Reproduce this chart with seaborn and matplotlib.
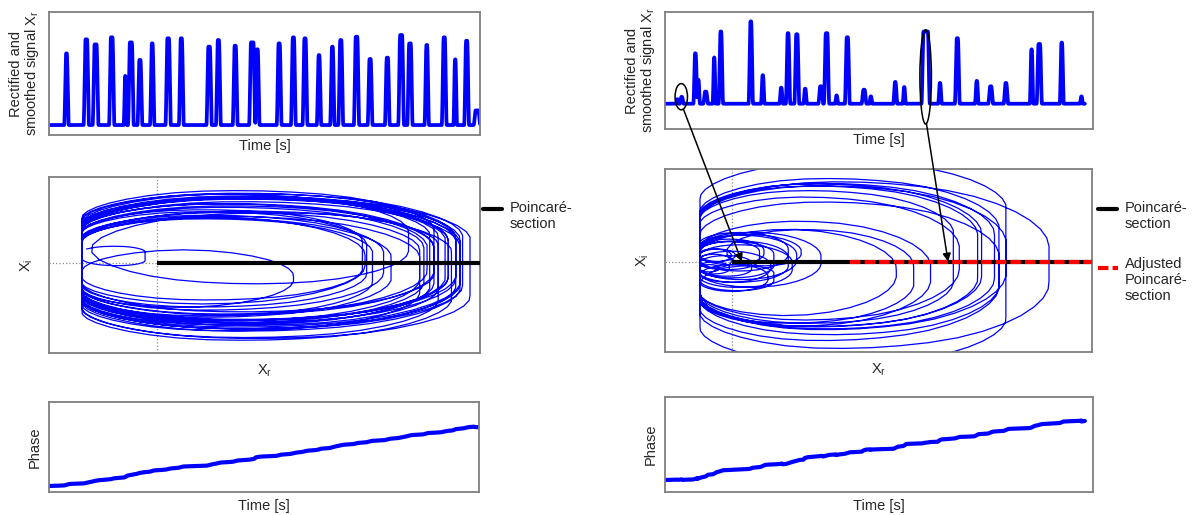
import numpy as np
import matplotlib
matplotlib.use("Agg")
import matplotlib.pyplot as plt
import seaborn as sns
from matplotlib.lines import Line2D
from matplotlib.patches import Ellipse, ConnectionPatch
from matplotlib.transforms import blended_transform_factory

# ---------------- data ----------------
# left recording: pulse onsets / offsets (time units, 0-100) and peak levels (0-1)
left_on = [3.6, 8.1, 10.2, 14.0, 17.4, 18.4, 20.6, 23.5, 27.1, 30.2, 36.6, 38.8, 42.7,
           46.5, 47.9, 52.9, 56.2, 58.9, 62.2, 65.3, 67.2, 70.8, 74.0, 78.0, 81.1, 83.2,
           87.2, 91.2, 93.9, 96.4, 98.6]
left_off = [4.5, 9.2, 11.4, 15.1, 18.0, 19.6, 21.6, 24.4, 28.2, 31.2, 37.7, 39.8, 43.7,
            47.8, 48.8, 53.9, 57.2, 59.9, 63.1, 66.2, 68.2, 71.9, 75.0, 79.0, 82.3, 84.3,
            88.1, 92.2, 94.6, 97.4, 100.0]
left_peak = [0.664, 0.778, 0.737, 0.794, 0.480, 0.753, 0.610, 0.745, 0.786, 0.786, 0.718,
             0.772, 0.726, 0.753, 0.697, 0.745, 0.794, 0.786, 0.650, 0.718, 0.772, 0.799,
             0.618, 0.629, 0.813, 0.745, 0.732, 0.794, 0.615, 0.766, 0.200]
left_base = 0.081
left_end = 100.0

# right recording
right_on = [2.6, 3.5, 6.7, 7.5, 9.0, 11.2, 12.6, 19.6, 22.5, 26.8, 28.3, 30.3, 32.4, 35.9,
            37.2, 39.8, 42.1, 46.0, 47.8, 53.4, 55.6, 60.0, 63.9, 67.8, 72.5, 75.6, 79.2,
            85.3, 86.9, 92.3, 97.0]
right_off = [3.2, 4.3, 7.5, 8.1, 10.0, 11.8, 13.5, 20.5, 23.2, 27.5, 29.2, 31.3, 33.1, 36.9,
             38.3, 40.4, 43.1, 47.0, 48.4, 54.2, 56.2, 61.8, 64.6, 68.8, 73.2, 76.6, 80.1,
             86.0, 88.0, 93.1, 97.6]
right_peak = [0.255, 0.275, 0.647, 0.420, 0.320, 0.612, 0.833, 0.920, 0.460, 0.353, 0.819,
              0.810, 0.345, 0.365, 0.819, 0.287, 0.784, 0.336, 0.279, 0.402, 0.359, 0.833,
              0.394, 0.776, 0.411, 0.365, 0.394, 0.681, 0.727, 0.739, 0.279]
right_base = 0.216
right_end = 98.1

# annotation ellipses in the top-right panel: (time, level, width, height)
small_ellipse = (3.8, 0.276, 2.9, 0.224)
big_ellipse = (60.9, 0.445, 2.7, 0.805)

# ---------------- helpers ----------------
W, H = 1195, 515
BLUE = "#0000ff"
FRAME = "#7f7f7f"
FS = 10.5

sns.set_theme(style="white")
plt.rcParams["font.family"] = ["Liberation Sans", "DejaVu Sans"]
plt.rcParams["mathtext.fontset"] = "custom"
plt.rcParams["mathtext.rm"] = "Liberation Sans"
plt.rcParams["mathtext.it"] = "Liberation Sans:italic"


def px_box(x0, y0, x1, y1):
    return [x0 / W, 1 - y1 / H, (x1 - x0) / W, (y1 - y0) / H]


def fx(x):
    return x / W


def fy(y):
    return 1 - y / H


def build(on, off, peak, base, t_end, n=4000, ramp=0.3, smooth=7, passes=1):
    t = np.linspace(0, t_end, n)
    s = np.full(n, base, dtype=float)
    for a, b, p in zip(on, off, peak):
        r = min(ramp, (b - a) / 3)
        shape = np.interp(t, [a, a + r, b - r, b], [0, 1, 1, 0], left=0, right=0)
        s = np.maximum(s, base + (p - base) * shape)
    k = np.ones(smooth) / smooth
    for _ in range(passes):
        s = np.convolve(np.pad(s, smooth // 2, mode="edge"), k, mode="valid")
    return t, s


def analytic(x):
    n = len(x)
    X = np.fft.fft(x)
    h = np.zeros(n)
    h[0] = 1
    if n % 2 == 0:
        h[n // 2] = 1
        h[1:n // 2] = 2
    else:
        h[1:(n + 1) // 2] = 2
    return np.fft.ifft(X * h)


def style(ax):
    ax.set_xticks([])
    ax.set_yticks([])
    for sp in ax.spines.values():
        sp.set_visible(True)
        sp.set_color(FRAME)
        sp.set_linewidth(1.3)


fig = plt.figure(figsize=(W / 100, H / 100), dpi=100)

panels = {
    "L": dict(on=left_on, off=left_off, peak=left_peak, base=left_base, end=left_end,
              top=(49, 12, 480, 135), mid=(49, 177, 480, 353), bot=(49, 402, 479, 492),
              rmap=(82, 470), imap=(196, 333), phase=(486, 427)),
    "R": dict(on=right_on, off=right_off, peak=right_peak, base=right_base, end=right_end,
              top=(665, 12, 1093, 129), mid=(665, 169, 1092, 352), bot=(665, 397, 1093, 492),
              rmap=(700, 1049), imap=(183, 341), phase=(480, 421)),
}

axes = {}
for key, p in panels.items():
    t, s = build(p["on"], p["off"], p["peak"], p["base"], p["end"])
    z = analytic(s - s.mean())
    xr, xi = z.real, z.imag
    phi = np.unwrap(np.angle(z))

    # --- top: rectified and smoothed signal
    ax_t = fig.add_axes(px_box(*p["top"]))
    sns.lineplot(x=t, y=s, ax=ax_t, color=BLUE, lw=2.7, estimator=None, sort=False)
    ax_t.set_xlim(0, 100)
    ax_t.set_ylim(0, 1)
    style(ax_t)
    ax_t.set_xlabel("Time [s]", fontsize=FS, labelpad=3)
    ax_t.set_ylabel("Rectified and\nsmoothed signal X$_{\\mathrm{r}}$", fontsize=FS,
                    labelpad=6, linespacing=1.0)

    # --- middle: phase portrait
    x0, y0, x1, y1 = p["mid"]
    ax_m = fig.add_axes(px_box(x0, y0, x1, y1))
    ax_m.axvline(0, color="#8c8c8c", ls=":", lw=0.9, zorder=0)
    ax_m.axhline(0, color="#8c8c8c", ls=":", lw=0.9, zorder=0)
    sns.lineplot(x=xr, y=xi, ax=ax_m, color=BLUE, lw=0.9, estimator=None, sort=False)
    rmin, rmax = xr.min(), xr.max()
    bw = x1 - x0
    span = (rmax - rmin) * bw / (p["rmap"][1] - p["rmap"][0])
    xl = rmin - (p["rmap"][0] - x0) / bw * span
    ax_m.set_xlim(xl, xl + span)
    imin, imax = np.percentile(xi, 0.5), np.percentile(xi, 99.5)
    bh = y1 - y0
    hspan = (imax - imin) * bh / (p["imap"][1] - p["imap"][0])
    ytop = imax + (p["imap"][0] - y0) / bh * hspan
    ax_m.set_ylim(ytop - hspan, ytop)
    ax_m.hlines(0, 0, xl + span, color="black", lw=3, zorder=5)
    style(ax_m)
    ax_m.set_xlabel("X$_{\\mathrm{r}}$", fontsize=FS, labelpad=7)
    ax_m.set_ylabel("X$_{\\mathrm{i}}$", fontsize=FS, labelpad=10)

    # --- bottom: phase
    ax_b = fig.add_axes(px_box(*p["bot"]))
    sns.lineplot(x=t, y=phi, ax=ax_b, color=BLUE, lw=3, estimator=None, sort=False)
    bx0, by0, bx1, by1 = p["bot"]
    ps, pe = p["phase"]
    pspan = (phi[-1] - phi[0]) * (by1 - by0) / (ps - pe)
    lo = phi[0] - (by1 - ps) / (by1 - by0) * pspan
    ax_b.set_ylim(lo, lo + pspan)
    ax_b.set_xlim(0, 100)
    style(ax_b)
    ax_b.set_xlabel("Time [s]", fontsize=FS, labelpad=5)
    ax_b.set_ylabel("Phase", fontsize=FS, labelpad=5)
    axes[key] = (ax_t, ax_m, ax_b)

# adjusted Poincaré section (right)
ax_rm = axes["R"][1]
ax_rm.axhline(0, xmin=0.433, xmax=1.0, color="red", lw=3, ls=(0, (2.5, 1.0)), zorder=6)

# ellipses + arrows on the right
ax_rt = axes["R"][0]
for (cx, cy, w, h) in (small_ellipse, big_ellipse):
    ax_rt.add_patch(Ellipse((cx, cy), w, h, fill=False, ec="black", lw=1.1, zorder=6))
blend = blended_transform_factory(ax_rm.transAxes, ax_rm.transData)
for start, tipx in (((4.3, 0.17), 0.18), ((61.1, 0.043), 0.663)):
    con = ConnectionPatch(xyA=start, coordsA=ax_rt.transData, xyB=(tipx, 0), coordsB=blend,
                          arrowstyle="-|>", color="black", lw=1.1, mutation_scale=12,
                          zorder=10)
    fig.add_artist(con)

# legends beside the middle panels
for lx in (483, 1098):
    fig.add_artist(Line2D([fx(lx), fx(lx + 19)], [fy(209), fy(209)], color="black", lw=3))
    fig.text(fx(lx + 27), fy(201), "Poincaré-\nsection", fontsize=FS, va="top", ha="left",
             linespacing=1.2)
fig.add_artist(Line2D([fx(1098), fx(1118)], [fy(268), fy(268)], color="red", lw=3,
                      ls=(0, (2.5, 1.0))))
fig.text(fx(1125), fy(257), "Adjusted\nPoincaré-\nsection", fontsize=FS, va="top",
         ha="left", linespacing=1.2)

fig.savefig("out.png", dpi=100)
